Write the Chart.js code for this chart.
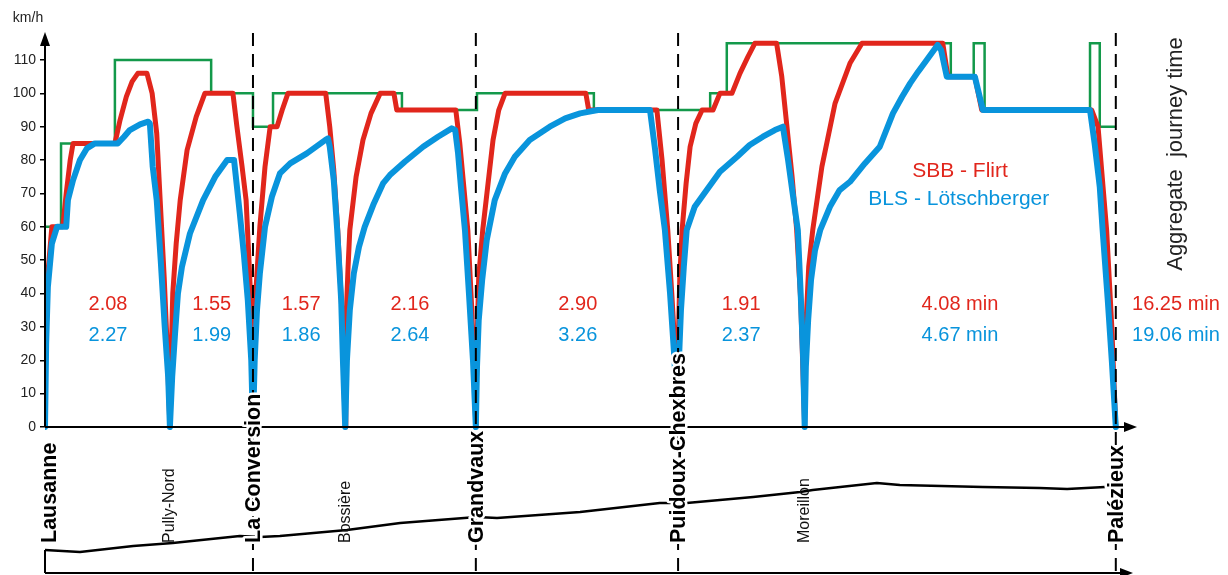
<!DOCTYPE html>
<html lang="fr">
<head>
  <meta charset="UTF-8" />
  <title>Lausanne - Palézieux</title>
  <script src="https://cdn.jsdelivr.net/npm/chart.js"></script>
  <style>
    body { margin: 0; background: #fff; overflow: hidden; }
    canvas { display: block; }
  </style>
</head>
<body>
  <canvas id="speedChart" width="1228" height="575"></canvas>

  <script>
    // distance in km from Lausanne, speed in km/h
    const stations = ['Lausanne', 'Pully-Nord', 'La Conversion', 'Bossière', 'Grandvaux', 'Puidoux-Chexbres', 'Moreillon', 'Palézieux'];
    const stationKm = [0, 2.18, 3.63, 5.24, 7.52, 11.05, 13.26, 18.69];
    const majorStop = [true, false, true, false, true, true, false, true];

    const yTicks = [0, 10, 20, 30, 40, 50, 60, 70, 80, 90, 100, 110];

    // speed limit, value holds from each km mark to the next
    const limitKm = [0, 0.28, 1.22, 2.90, 3.63, 3.98, 6.23, 7.54, 9.58, 11.61, 11.90, 15.81, 16.21, 16.40, 18.24, 18.41, 18.69];
    const limitKmh = [60, 85, 110, 100, 90, 100, 95, 100, 95, 100, 115, 105, 115, 95, 115, 90, 90];

    const flirt = [
      [0, 0], [0.02, 40], [0.12, 60], [0.31, 60], [0.37, 70], [0.44, 80], [0.49, 85], [1.22, 85], [1.31, 92], [1.42, 99], [1.52, 103.5], [1.62, 106], [1.78, 106],
      [1.87, 100], [1.95, 88], [2.01, 68], [2.08, 45], [2.13, 25], [2.18, 0],
      [2.20, 20], [2.23, 40], [2.29, 55], [2.36, 68], [2.48, 83], [2.64, 93], [2.79, 100], [3.28, 100], [3.35, 90], [3.44, 78], [3.51, 68], [3.56, 50], [3.60, 35], [3.63, 0],
      [3.66, 35], [3.75, 60], [3.84, 78], [3.93, 90], [4.05, 90], [4.14, 95], [4.24, 100], [4.90, 100], [4.97, 90], [5.04, 77], [5.11, 59], [5.18, 35], [5.24, 0],
      [5.25, 30], [5.29, 48], [5.32, 59], [5.43, 75], [5.55, 86], [5.69, 94], [5.85, 100], [6.09, 100], [6.14, 95], [7.17, 95], [7.24, 85], [7.31, 72], [7.38, 59], [7.45, 35], [7.52, 0],
      [7.54, 25], [7.57, 45], [7.64, 59], [7.82, 86], [7.92, 95], [8.03, 100], [9.44, 100], [9.49, 95], [10.68, 95], [10.77, 80], [10.87, 59], [10.94, 40], [10.99, 25], [11.05, 0],
      [11.06, 30], [11.08, 45], [11.12, 59], [11.19, 73], [11.26, 84], [11.36, 91], [11.47, 95], [11.66, 95], [11.78, 100], [11.99, 100], [12.13, 106], [12.27, 111], [12.39, 115], [12.77, 115],
      [12.86, 105], [12.95, 90], [13.04, 75], [13.12, 59], [13.19, 38], [13.26, 0],
      [13.28, 30], [13.33, 48], [13.40, 59], [13.56, 78], [13.79, 97], [14.05, 109], [14.26, 115], [15.67, 115], [15.76, 105], [16.23, 105], [16.35, 95], [18.27, 95],
      [18.38, 90], [18.53, 59], [18.62, 30], [18.69, 0]
    ];

    const lotschberger = [
      [0, 0], [0.02, 25], [0.05, 42], [0.12, 55], [0.21, 60], [0.37, 60], [0.40, 68], [0.49, 74], [0.61, 80], [0.73, 83.5], [0.87, 85], [1.27, 85], [1.38, 87], [1.48, 89], [1.66, 90.7], [1.80, 91.5],
      [1.83, 91], [1.88, 78], [1.95, 68], [2.02, 50], [2.09, 30], [2.15, 15], [2.18, 0],
      [2.22, 15], [2.27, 28], [2.32, 40], [2.39, 48], [2.53, 58], [2.76, 68], [2.97, 75], [3.18, 80], [3.30, 80], [3.35, 72], [3.40, 64], [3.47, 52], [3.54, 38], [3.60, 20], [3.63, 0],
      [3.66, 20], [3.70, 35], [3.75, 46], [3.84, 60], [3.96, 69], [4.10, 76], [4.28, 79], [4.57, 82], [4.89, 86], [4.94, 86.5], [4.97, 84], [5.04, 74], [5.10, 59], [5.17, 38], [5.20, 20], [5.24, 0],
      [5.27, 20], [5.32, 35], [5.39, 46], [5.48, 54], [5.58, 60], [5.74, 67], [5.90, 73], [6.02, 75.5], [6.28, 79.5], [6.60, 84], [6.86, 87], [7.10, 89.5], [7.16, 89],
      [7.21, 82], [7.26, 72], [7.33, 59], [7.40, 40], [7.47, 20], [7.52, 0],
      [7.54, 18], [7.57, 32], [7.63, 44], [7.71, 56], [7.85, 68], [8.03, 76], [8.20, 81], [8.46, 86], [8.81, 90], [9.08, 92.5], [9.34, 94], [9.65, 95], [10.56, 95],
      [10.65, 83], [10.73, 71], [10.82, 59], [10.91, 40], [10.98, 22], [11.05, 0],
      [11.06, 18], [11.10, 35], [11.15, 48], [11.20, 59], [11.34, 66], [11.55, 71], [11.78, 76.5], [12.08, 81], [12.30, 84.5], [12.53, 87], [12.74, 89], [12.88, 90],
      [12.97, 80], [13.05, 70], [13.14, 59], [13.19, 40], [13.23, 22], [13.26, 0],
      [13.28, 18], [13.32, 32], [13.37, 44], [13.44, 53], [13.53, 59], [13.70, 66], [13.87, 71], [14.05, 73.5], [14.31, 79], [14.57, 84], [14.80, 94], [14.96, 99], [15.10, 103],
      [15.24, 106.5], [15.39, 110], [15.58, 114.5], [15.64, 113], [15.74, 105], [16.23, 105], [16.37, 95], [18.24, 95],
      [18.32, 85], [18.41, 72], [18.46, 59], [18.55, 38], [18.62, 20], [18.69, 0]
    ];

    // track altitude (m)
    const elevKm = [0, 0.61, 1.54, 2.23, 3.40, 3.75, 4.10, 5.27, 6.20, 7.54, 7.89, 9.34, 10.73, 11.20, 12.36, 13.18, 13.40, 14.52, 14.92, 16.37, 17.36, 17.84, 18.50];
    const elevM = [450, 442, 466, 478, 506, 502, 506, 530, 558, 582, 578, 602, 638, 638, 662, 682, 690, 718, 710, 702, 698, 694, 702];

    // journey time per section (min)
    const timeKm = [1.10, 2.91, 4.47, 6.37, 9.30, 12.15, 15.97, 19.74];
    const flirtTimes = ['2.08', '1.55', '1.57', '2.16', '2.90', '1.91', '4.08 min', '16.25 min'];
    const lotschTimes = ['2.27', '1.99', '1.86', '2.64', '3.26', '2.37', '4.67 min', '19.06 min'];

    const RED = '#e1261c';
    const BLUE = '#0994dc';
    const GREEN = '#13994a';
    const FONT = '"Liberation Sans", Arial, sans-serif';

    const toXY = arr => arr.map(p => ({ x: p[0], y: p[1] }));

    const overlay = {
      id: 'overlay',
      afterDatasetsDraw(chart) {
        const { ctx, chartArea: a, scales: { x, y, y2 } } = chart;
        const x0 = x.getPixelForValue(0);
        const y0 = y.getPixelForValue(0);
        const yb = a.bottom;

        function seg(x1, y1, x2, y2_) {
          ctx.beginPath(); ctx.moveTo(x1, y1); ctx.lineTo(x2, y2_); ctx.stroke();
        }
        function tri(p1, p2, p3) {
          ctx.beginPath(); ctx.moveTo(p1[0], p1[1]); ctx.lineTo(p2[0], p2[1]); ctx.lineTo(p3[0], p3[1]); ctx.closePath(); ctx.fill();
        }

        ctx.save();
        ctx.strokeStyle = '#000';
        ctx.fillStyle = '#000';
        ctx.lineWidth = 2;

        // axes with arrows
        seg(x0, y0, x0, a.top + 10);
        tri([x0, a.top - 1], [x0 - 5, a.top + 13], [x0 + 5, a.top + 13]);
        seg(x0, y0, a.right - 10, y0);
        tri([a.right, y0], [a.right - 13, y0 - 5], [a.right - 13, y0 + 5]);
        seg(x0, y2.getPixelForValue(elevM[0]), x0, yb);
        seg(x0, yb, a.right - 14, yb);
        tri([a.right - 4, yb], [a.right - 17, yb - 5], [a.right - 17, yb + 5]);

        // dashed lines at the main stations
        ctx.setLineDash([13, 8]);
        stationKm.forEach((km, i) => {
          if (!majorStop[i] || i === 0) return;
          const px = x.getPixelForValue(km);
          seg(px, a.top, px, yb + 2);
        });
        ctx.setLineDash([]);

        // station names
        stationKm.forEach((km, i) => {
          const px = x.getPixelForValue(km) + (i === 0 ? 4 : 0);
          ctx.save();
          ctx.translate(px, yb - 30);
          ctx.rotate(-Math.PI / 2);
          ctx.textAlign = 'left';
          ctx.textBaseline = 'middle';
          if (majorStop[i]) {
            ctx.font = 'bold 21.5px ' + FONT;
            ctx.strokeStyle = '#fff';
            ctx.lineWidth = 5;
            ctx.lineJoin = 'round';
            ctx.strokeText(stations[i], 0, 1);
            ctx.fillStyle = '#000';
            ctx.fillText(stations[i], 0, 1);
          } else {
            ctx.font = '16px ' + FONT;
            ctx.fillStyle = '#111';
            ctx.fillText(stations[i], 0, 0);
          }
          ctx.restore();
        });

        // section times
        ctx.font = '20px ' + FONT;
        ctx.textAlign = 'center';
        ctx.textBaseline = 'middle';
        timeKm.forEach((km, i) => {
          const px = x.getPixelForValue(km);
          ctx.fillStyle = RED;
          ctx.fillText(flirtTimes[i], px, y.getPixelForValue(36.7));
          ctx.fillStyle = BLUE;
          ctx.fillText(lotschTimes[i], px, y.getPixelForValue(27.3));
        });

        // legend
        ctx.font = '21px ' + FONT;
        ctx.fillStyle = RED;
        ctx.fillText('SBB - Flirt', x.getPixelForValue(15.97), y.getPixelForValue(76.7));
        ctx.fillStyle = BLUE;
        ctx.fillText('BLS - Lötschberger', x.getPixelForValue(15.95), y.getPixelForValue(68.3));

        // unit and side title
        ctx.fillStyle = '#222';
        ctx.font = '14px ' + FONT;
        ctx.fillText('km/h', 28, 18);

        ctx.save();
        ctx.translate(1176, 154);
        ctx.rotate(-Math.PI / 2);
        ctx.font = '22px ' + FONT;
        ctx.fillText('Aggregate  journey time', 0, 0);
        ctx.restore();

        ctx.restore();
      }
    };

    const ctx = document.getElementById('speedChart').getContext('2d');
    new Chart(ctx, {
      type: 'line',
      data: {
        datasets: [
          {
            label: 'BLS - Lötschberger',
            data: toXY(lotschberger),
            borderColor: BLUE,
            borderWidth: 6,
            yAxisID: 'y'
          },
          {
            label: 'SBB - Flirt',
            data: toXY(flirt),
            borderColor: RED,
            borderWidth: 5,
            yAxisID: 'y'
          },
          {
            label: 'Speed limit',
            data: limitKm.map((km, i) => ({ x: km, y: limitKmh[i] })),
            borderColor: GREEN,
            borderWidth: 2.5,
            stepped: true,
            borderJoinStyle: 'miter',
            borderCapStyle: 'butt',
            yAxisID: 'y'
          },
          {
            label: 'Altitude',
            data: elevKm.map((km, i) => ({ x: km, y: elevM[i] })),
            borderColor: '#000',
            borderWidth: 2.5,
            yAxisID: 'y2'
          }
        ]
      },
      options: {
        responsive: false,
        animation: false,
        layout: { padding: { top: 33, right: 91, bottom: 2, left: 0 } },
        elements: {
          point: { radius: 0 },
          line: { tension: 0, borderJoinStyle: 'round', borderCapStyle: 'round', fill: false }
        },
        plugins: {
          legend: { display: false },
          tooltip: { enabled: false }
        },
        scales: {
          x: { type: 'linear', min: 0, max: 19.06, display: false },
          y: {
            min: -43.76,
            max: 118.09,
            afterFit: s => {
              s.width = 45;
              s.paddingTop = 0;
              s.paddingBottom = 0;
            },
            afterBuildTicks: s => { s.ticks = yTicks.map(v => ({ value: v })); },
            border: { display: false },
            grid: { drawOnChartArea: false, color: '#000', lineWidth: 1.5, tickLength: 5 },
            ticks: { color: '#222', font: { size: 14, family: FONT }, padding: 4 }
          },
          y2: { min: 358, max: 2518, display: false }
        }
      },
      plugins: [overlay]
    });
  </script>
</body>
</html>
